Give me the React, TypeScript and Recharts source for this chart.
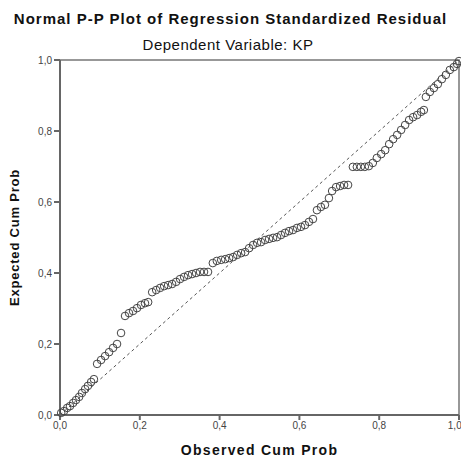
import {
    ScatterChart,
    Scatter,
    XAxis,
    YAxis,
    ReferenceLine,
    ReferenceArea,
} from "recharts";

// observed cum prob (x) and expected cum prob (y)
const observed = [
    0.003, 0.010, 0.018, 0.025, 0.033, 0.040, 0.048, 0.055, 0.063, 0.070, 0.078, 0.085,
    0.093, 0.103, 0.113, 0.123, 0.133, 0.143, 0.153,
    0.163, 0.173, 0.183, 0.193, 0.203, 0.213, 0.221,
    0.231, 0.241, 0.251, 0.261, 0.271, 0.281, 0.291, 0.301, 0.311, 0.321, 0.331, 0.341, 0.351, 0.361, 0.371,
    0.383, 0.393, 0.404, 0.414, 0.424, 0.434, 0.444, 0.454, 0.464, 0.474, 0.484, 0.494, 0.504,
    0.514, 0.524, 0.534, 0.544, 0.554, 0.564, 0.574, 0.584, 0.594, 0.604, 0.614, 0.624, 0.634,
    0.644, 0.654, 0.664, 0.674, 0.682, 0.692, 0.702, 0.712, 0.722,
    0.734, 0.744, 0.754, 0.764, 0.774, 0.784, 0.794, 0.805, 0.815, 0.825, 0.835, 0.845,
    0.855, 0.865, 0.875, 0.885, 0.895, 0.905, 0.912,
    0.917, 0.927, 0.937, 0.947, 0.957, 0.967, 0.977, 0.987, 0.995, 1.0,
];

const expected = [
    0.006, 0.011, 0.020, 0.025, 0.034, 0.042, 0.051, 0.062, 0.073, 0.082, 0.093, 0.101,
    0.144, 0.155, 0.166, 0.177, 0.189, 0.200, 0.231,
    0.279, 0.287, 0.293, 0.301, 0.310, 0.315, 0.318,
    0.346, 0.352, 0.358, 0.363, 0.366, 0.369, 0.375, 0.383, 0.389, 0.394, 0.397, 0.400, 0.403, 0.403, 0.403,
    0.428, 0.434, 0.437, 0.439, 0.442, 0.445, 0.451, 0.456, 0.459, 0.470, 0.479, 0.485, 0.487,
    0.493, 0.496, 0.499, 0.501, 0.507, 0.513, 0.518, 0.521, 0.527, 0.530, 0.535, 0.544, 0.552,
    0.577, 0.586, 0.592, 0.611, 0.631, 0.642, 0.645, 0.648, 0.648,
    0.699, 0.699, 0.699, 0.699, 0.701, 0.710, 0.724, 0.735, 0.746, 0.763, 0.777, 0.789,
    0.803, 0.817, 0.831, 0.839, 0.845, 0.854, 0.859,
    0.896, 0.910, 0.921, 0.932, 0.946, 0.958, 0.972, 0.980, 0.989, 0.997,
];

const ticks = [0, 0.2, 0.4, 0.6, 0.8, 1.0];
const tickLabels = ["0,0", "0,2", "0,4", "0,6", "0,8", "1,0"];

const points = observed.map((x, i) => ({ x, y: expected[i] }));

function fmt(v: number) {
    const i = ticks.indexOf(v);
    return i >= 0 ? tickLabels[i] : String(v);
}

const Ring = (props: any) => (
    <circle cx={props.cx} cy={props.cy} r={3.8} fill="none" stroke="#444" strokeWidth={1} />
);

const tickStyle = { fontSize: 10, fill: "#444", fontFamily: "Liberation Sans, Arial, sans-serif" };

export default function App() {
    return (
        <div
            style={{
                position: "absolute",
                left: 0,
                top: 0,
                width: 461,
                height: 457,
                background: "#fff",
                fontFamily: "Liberation Sans, Arial, sans-serif",
                color: "#111",
            }}
        >
            <div style={{ position: "absolute", top: 10, left: 0, width: 461, textAlign: "center", fontSize: 15, fontWeight: "bold", letterSpacing: 1 }}>
                Normal P-P Plot of Regression Standardized Residual
            </div>
            <div style={{ position: "absolute", top: 36, left: 0, width: 456, textAlign: "center", fontSize: 15, letterSpacing: 0.5 }}>
                Dependent Variable: KP
            </div>

            <ScatterChart
                width={461}
                height={457}
                margin={{ top: 60, right: 2, bottom: 0, left: 0 }}
                style={{ position: "absolute", left: 0, top: 0 }}
            >
                <ReferenceArea x1={0} x2={1} y1={0} y2={1} fill="none" stroke="#777" strokeWidth={1.5} fillOpacity={0} />
                <XAxis
                    type="number"
                    dataKey="x"
                    domain={[0, 1]}
                    ticks={ticks}
                    tickFormatter={fmt}
                    tick={tickStyle}
                    tickSize={5}
                    height={42}
                    stroke="#666"
                    strokeWidth={2}
                    label={{ value: "Observed Cum Prob", position: "insideBottom", offset: 2, style: { fontSize: 14, fontWeight: "bold", fill: "#111", letterSpacing: 1.3 } }}
                />
                <YAxis
                    type="number"
                    dataKey="y"
                    domain={[0, 1]}
                    ticks={ticks}
                    tickFormatter={fmt}
                    tick={tickStyle}
                    tickSize={6}
                    width={60}
                    stroke="#666"
                    strokeWidth={2}
                    label={{ value: "Expected Cum Prob", angle: -90, position: "insideLeft", offset: 14, style: { textAnchor: "middle", fontSize: 13, fontWeight: "bold", fill: "#111", letterSpacing: 0.8 } }}
                />
                <ReferenceLine
                    segment={[{ x: 0, y: 0 }, { x: 1, y: 1 }]}
                    stroke="#555"
                    strokeDasharray="3 3"
                    strokeWidth={1}
                />
                <Scatter data={points} shape={Ring} isAnimationActive={false} />
            </ScatterChart>
        </div>
    );
}
